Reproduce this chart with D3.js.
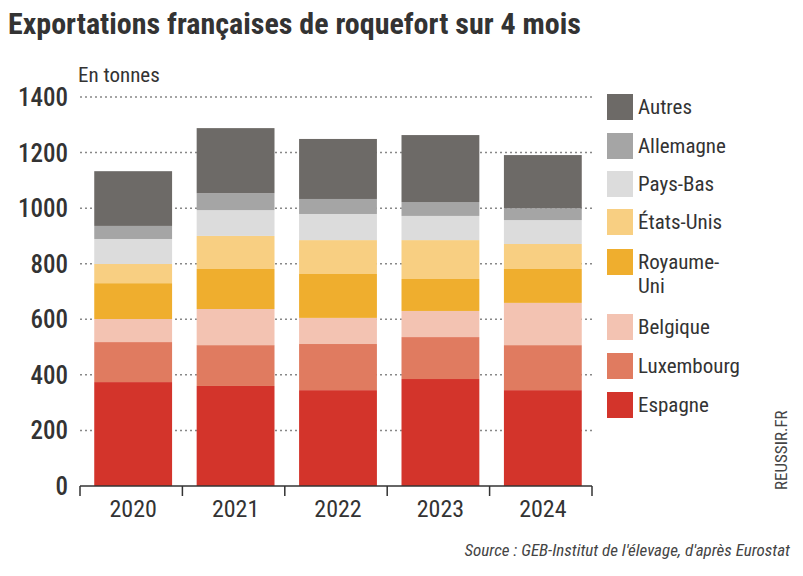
<!DOCTYPE html>
<html><head><meta charset="utf-8">
<script src="https://cdn.jsdelivr.net/npm/d3@7"></script>
<style>body{margin:0;background:#fff}text{font-family:"Roboto Condensed","Liberation Sans Narrow",Roboto,sans-serif}</style>
</head><body>
<svg id="c" width="803" height="576"></svg>
<script>
var years = ["2020","2021","2022","2023","2024"];
var series = ["Espagne","Luxembourg","Belgique","Royaume-Uni","États-Unis","Pays-Bas","Allemagne","Autres"];
var colors = ["#d3342b","#e07b60","#f3c3b2","#efae2e","#f8cf82","#dcdcdc","#a5a5a5","#6d6a67"];
// valeurs par pays, en tonnes
var espagne    = [374,360,345,385,345];
var luxembourg = [144,147,166,151,162];
var belgique   = [83,130,94,94,152];
var royaumeUni = [129,144,158,115,122];
var etatsUnis  = [69,119,122,140,90];
var paysBas    = [90,93,94,87,86];
var allemagne  = [47,61,54,50,43];
var autres     = [197,234,216,241,191];
var yTicks = [0,200,400,600,800,1000,1200,1400];

var vals = [espagne,luxembourg,belgique,royaumeUni,etatsUnis,paysBas,allemagne,autres];
var rows = years.map(function(y,i){
  var r = {year:y};
  series.forEach(function(s,j){ r[s] = vals[j][i]; });
  return r;
});
var stacked = d3.stack().keys(series)(rows);

var svg = d3.select("#c");
var x = d3.scaleBand().domain(years).range([84,592]).paddingInner(0.24).paddingOuter(0.1);
var y = d3.scaleLinear().domain([0,1400]).range([486,97]);

svg.append("text").attr("x",8).attr("y",34).text("Exportations françaises de roquefort sur 4 mois")
  .style("font-size","30px").style("font-weight","bold").attr("fill","#333");
svg.append("text").attr("x",78).attr("y",82).text("En tonnes").style("font-size","21px").attr("fill","#333");

svg.append("g").selectAll("line").data(yTicks.slice(1)).enter().append("line")
  .attr("x1",80).attr("x2",592).attr("y1",function(d){return y(d);}).attr("y2",function(d){return y(d);})
  .attr("stroke","#888").attr("stroke-width",1.5).attr("stroke-dasharray","2,3");

svg.append("g").selectAll("text").data(yTicks).enter().append("text")
  .attr("x",68).attr("y",function(d){return y(d)+9;}).attr("text-anchor","end")
  .text(function(d){return d;}).style("font-size","25px").style("font-weight","500").attr("fill","#333");

svg.append("g").selectAll("g").data(stacked).enter().append("g")
  .attr("fill",function(d,i){return colors[i];})
  .selectAll("rect").data(function(d){return d;}).enter().append("rect")
  .attr("x",function(d){return x(d.data.year);}).attr("width",x.bandwidth())
  .attr("y",function(d){return y(d[1]);}).attr("height",function(d){return y(d[0])-y(d[1]);});

var ax = svg.append("g").attr("transform","translate(0,486)")
  .call(d3.axisBottom(x).tickSize(0).tickPadding(14));
ax.select(".domain").attr("stroke","#333").attr("stroke-width",1.5).attr("d","M80,0H592");
ax.selectAll("text").style("font-size","24px").attr("fill","#333").attr("font-family","Roboto Condensed, Liberation Sans Narrow, sans-serif");
svg.append("g").selectAll("line").data(d3.range(6)).enter().append("line")
  .attr("x1",function(i){return 80+i*(512/5);}).attr("x2",function(i){return 80+i*(512/5);})
  .attr("y1",486).attr("y2",496).attr("stroke","#333").attr("stroke-width",1.5);

var legY = [107,146,184,222,262,327,366,405];
var leg = svg.append("g");
for (var k=0;k<8;k++){
  var idx = 7-k;
  leg.append("rect").attr("x",607).attr("y",legY[k]-13).attr("width",26).attr("height",26).attr("fill",colors[idx]);
  if (series[idx]==="Royaume-Uni"){
    leg.append("text").attr("x",638).attr("y",legY[k]+7).text("Royaume-").style("font-size","21px").attr("fill","#333");
    leg.append("text").attr("x",638).attr("y",legY[k]+31).text("Uni").style("font-size","21px").attr("fill","#333");
  } else {
    leg.append("text").attr("x",638).attr("y",legY[k]+7).text(series[idx]).style("font-size","21px").attr("fill","#333");
  }
}
svg.append("text").attr("transform","translate(787,490) rotate(-90)").text("REUSSIR.FR")
  .style("font-size","17px").attr("fill","#444");
svg.append("text").attr("x",790).attr("y",556).attr("text-anchor","end")
  .text("Source : GEB-Institut de l'élevage, d'après Eurostat").style("font-size","17px").style("font-style","italic").attr("fill","#444");
</script>
</body></html>
